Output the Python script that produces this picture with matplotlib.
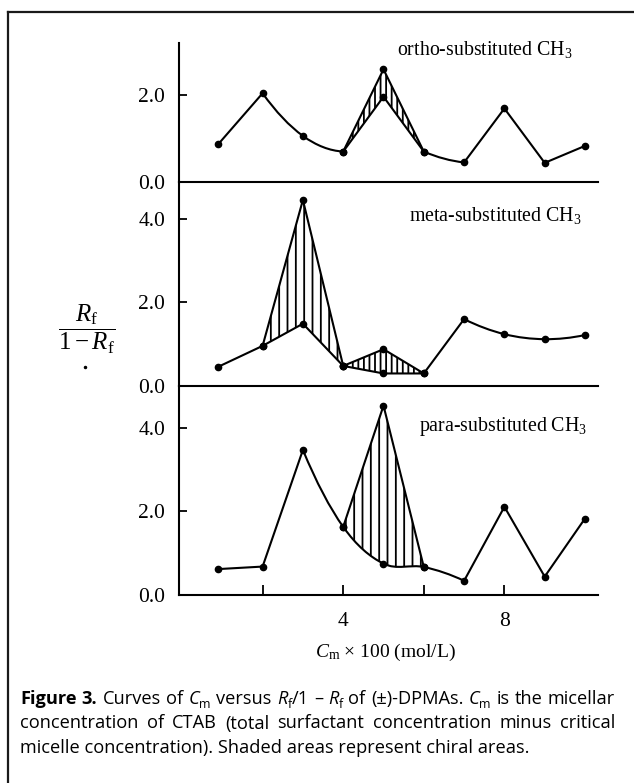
import matplotlib
matplotlib.use("Agg")
import matplotlib.pyplot as plt
from matplotlib.path import Path
from matplotlib.patches import PathPatch
from matplotlib.lines import Line2D

plt.rcParams.update({
    'font.family': ['Liberation Serif', 'DejaVu Serif'],
    'mathtext.fontset': 'custom',
    'mathtext.rm': 'Liberation Serif',
    'mathtext.it': 'Liberation Serif:italic',
    'mathtext.bf': 'Liberation Serif:bold',
    'hatch.color': 'black',
    'hatch.linewidth': 1.3,
})

# ---------------- data ----------------
cm = [0.9, 2, 3, 4, 5, 6, 7, 8, 9, 10]
peak_x = [4, 5, 6]
meta_peak1_x = [2, 3, 4]

ortho_main = [0.87, 2.04, 1.06, 0.70, 1.96, 0.70, 0.45, 1.69, 0.44, 0.83]
ortho_upper = [0.70, 2.59, 0.70]

meta_main = [0.46, 0.96, 1.49, 0.48, 0.30, 0.30, 1.60, 1.24, 1.12, 1.22]
meta_upper1 = [0.96, 4.45, 0.48]
meta_upper2 = [0.48, 0.88, 0.30]

para_main = [0.62, 0.68, 3.47, 1.63, 0.75, 0.67, 0.34, 2.11, 0.44, 1.83]
para_upper = [1.63, 4.53, 0.67]

panel_titles = ["ortho-substituted CH$_3$", "meta-substituted CH$_3$", "para-substituted CH$_3$"]
xtick_vals = [2, 4, 6, 8]
xtick_labels = ["", "4", "", "8"]

caption_lines = [
    [[("Figure", "b")], [("3.", "b")], [("Curves", "n")], [("of", "n")],
     [("C", "i"), ("m", "s")], [("versus", "n")], [("R", "i"), ("f", "s"), ("/1", "n")],
     [("\u2013", "n")], [("R", "i"), ("f", "s")], [("of", "n")], [("(\u00b1)-DPMAs.", "n")],
     [("C", "i"), ("m", "s")], [("is", "n")], [("the", "n")], [("micellar", "n")]],
    [[(w, "n")] for w in "concentration of CTAB (total surfactant concentration minus critical".split()],
]
caption_last = "micelle concentration). Shaded areas represent chiral areas."

# ---------------- figure ----------------
W, H, DPI = 634, 783, 100
fig = plt.figure(figsize=(W / DPI, H / DPI), dpi=DPI)
fig.patch.set_facecolor('white')


def fx(px):
    return px / W


def fy(py):
    return 1 - py / H


def segments(xs, ys, runs=()):
    n = len(xs)
    smooth = {}
    for a, b in runs:
        X = xs[a:b + 1]
        Y = ys[a:b + 1]
        m = len(X)
        t = [0.0] * m
        for k in range(1, m - 1):
            t[k] = (Y[k + 1] - Y[k - 1]) / (X[k + 1] - X[k - 1])
        c0 = (Y[1] - Y[0]) / (X[1] - X[0])
        c1 = (Y[-1] - Y[-2]) / (X[-1] - X[-2])
        if m > 2:
            t[0] = 2 * c0 - t[1]
            t[-1] = 2 * c1 - t[-2]
        else:
            t[0] = 1.6 * c0
            t[-1] = 0.4 * c1
        if t[0] * c0 < 0:
            t[0] = 0.0
        if t[-1] * c1 < 0:
            t[-1] = 0.0
        for k in range(m - 1):
            smooth[a + k] = (t[k], t[k + 1])
    segs = []
    for i in range(n - 1):
        x0, y0, x1, y1 = xs[i], ys[i], xs[i + 1], ys[i + 1]
        if i in smooth:
            t0, t1 = smooth[i]
            d = (x1 - x0) / 3
            segs.append([(x0, y0), (x0 + d, y0 + t0 * d), (x1 - d, y1 - t1 * d), (x1, y1)])
        else:
            segs.append([(x0, y0), (x1, y1)])
    return segs


def path_of(segs, close=False):
    verts = [segs[0][0]]
    codes = [Path.MOVETO]
    for s in segs:
        verts += s[1:]
        codes += [Path.CURVE4] * 3 if len(s) == 4 else [Path.LINETO]
    if close:
        verts.append(segs[0][0])
        codes.append(Path.CLOSEPOLY)
    return Path(verts, codes)


def region(upper_segs, lower_segs):
    segs = upper_segs + [list(reversed(s)) for s in reversed(lower_segs)]
    return path_of(segs, close=True)


LW = 1.5
MS = 4.5

xmin = (179 - 182) / 40.3
xmax = (598 - 182) / 40.3

axes_specs = [
    (43, 182, (182 - 43) / 43.5, [0, 2]),
    (182, 386, (385 - 182) / 41.6, [0, 2, 4]),
    (386, 595, (594 - 386) / 41.6, [0, 2, 4]),
]

axs = []
for (ytop, ybot, ymax, yt) in axes_specs:
    ax = fig.add_axes([fx(179), fy(ybot), fx(598) - fx(179), (ybot - ytop) / H])
    ax.set_xlim(xmin, xmax)
    ax.set_ylim(0, ymax)
    ax.patch.set_alpha(0)
    for s in ['top', 'right']:
        ax.spines[s].set_visible(False)
    for s in ['left', 'bottom']:
        ax.spines[s].set_linewidth(1.5)
    ax.set_yticks(yt)
    ax.set_yticklabels([f"{v:.1f}" for v in yt])
    ax.tick_params(axis='y', direction='in', length=6, width=1.3, pad=10, labelsize=15.5)
    ax.tick_params(axis='x', bottom=False, labelbottom=False)
    axs.append(ax)


def draw_panel(ax, main, runs, uppers, lower_ranges, hatches):
    main_segs = segments(cm, main, runs)
    for (ux, uy), (a, b), h in zip(uppers, lower_ranges, hatches):
        useg = segments(ux, uy)
        patch = PathPatch(region(useg, main_segs[a:b]), facecolor='none', edgecolor='black',
                          linewidth=0, hatch=h)
        ax.add_patch(patch)
        ax.add_patch(PathPatch(path_of(useg), facecolor='none', edgecolor='black', lw=LW,
                               capstyle='round', joinstyle='round'))
        ax.plot(ux, uy, 'o', color='black', ms=MS, clip_on=False)
    ax.add_patch(PathPatch(path_of(main_segs), facecolor='none', edgecolor='black', lw=LW,
                           capstyle='round', joinstyle='round'))
    ax.plot(cm, main, 'o', color='black', ms=MS, clip_on=False)


draw_panel(axs[0], ortho_main, [(1, 3), (5, 6)], [(peak_x, ortho_upper)], [(3, 5)], ['|||'])
draw_panel(axs[1], meta_main, [(6, 9)], [(meta_peak1_x, meta_upper1), (peak_x, meta_upper2)],
           [(1, 3), (3, 5)], ['||', '|||'])
draw_panel(axs[2], para_main, [(2, 6)], [(peak_x, para_upper)], [(3, 5)], ['||'])

axb = axs[2]
axb.set_xticks(xtick_vals)
axb.set_xticklabels(xtick_labels)
axb.tick_params(axis='x', bottom=True, labelbottom=True, direction='in', length=7, width=1.3,
                pad=12, labelsize=15.5)

# panel titles
for (tx, ty), title in zip([(397, 50), (409, 216), (419, 426)], panel_titles):
    fig.text(fx(tx), fy(ty), title, fontsize=14.3, ha='left', va='center')

# axis labels
fig.text(fx(385), fy(652), r"$C_\mathrm{m}$ $\times$ 100 (mol/L)", fontsize=14, ha='center', va='center')
fig.text(fx(87), fy(329), r"$\dfrac{R_\mathrm{f}}{1-R_\mathrm{f}}$", fontsize=18, ha='center', va='center')
fig.add_artist(Line2D([fx(85)], [fy(367)], marker='o', ms=1.5, color='black'))

# border
fig.add_artist(Line2D([fx(8), 1.0], [fy(12), fy(12)], color='#1a1a1a', lw=1.6))
fig.add_artist(Line2D([fx(8), fx(8)], [fy(12), 0.0], color='#1a1a1a', lw=1.6))

# ---------------- caption ----------------
renderer = fig.canvas.get_renderer()
CAP_FONT = ['Open Sans', 'DejaVu Sans']


def piece_kw(style, size):
    kw = dict(family=CAP_FONT, fontsize=size)
    if style == 'b':
        kw['weight'] = 'bold'
    elif style == 'i':
        kw['style'] = 'italic'
    elif style == 's':
        kw['fontsize'] = size * 0.68
    return kw


def raw_width(text, style, size):
    t = fig.text(0, 0, text, **piece_kw(style, size))
    w = t.get_window_extent(renderer).width
    t.remove()
    return w


def measure(text, style, size):
    # advance-based width: bracket with bars so side bearings do not skew spacing
    return raw_width("|" + text + "|", style, size) - raw_width("||", style, size)


def word_width(word, size):
    return sum(measure(txt, st, size) for txt, st in word)


# font size so that the last (unjustified) line matches its width in the reference
probe = 12.0
cap_size = probe * (507.0 / raw_width(caption_last, "n", probe))

X0, X1 = 20, 615
baselines = [704, 728.5, 753]
for line, base in zip(caption_lines, baselines[:2]):
    widths = [word_width(w, cap_size) for w in line]
    gap = (X1 - X0 - sum(widths)) / (len(line) - 1)
    x = X0
    for word, ww in zip(line, widths):
        for txt, st in word:
            yoff = 0.2 * cap_size * DPI / 72 if st == 's' else 0
            fig.text(fx(x), fy(base + yoff), txt, va='baseline', ha='left', **piece_kw(st, cap_size))
            x += measure(txt, st, cap_size)
        x += gap
fig.text(fx(X0), fy(baselines[2]), caption_last, va='baseline', ha='left', **piece_kw("n", cap_size))

fig.savefig("out.png", dpi=DPI)
